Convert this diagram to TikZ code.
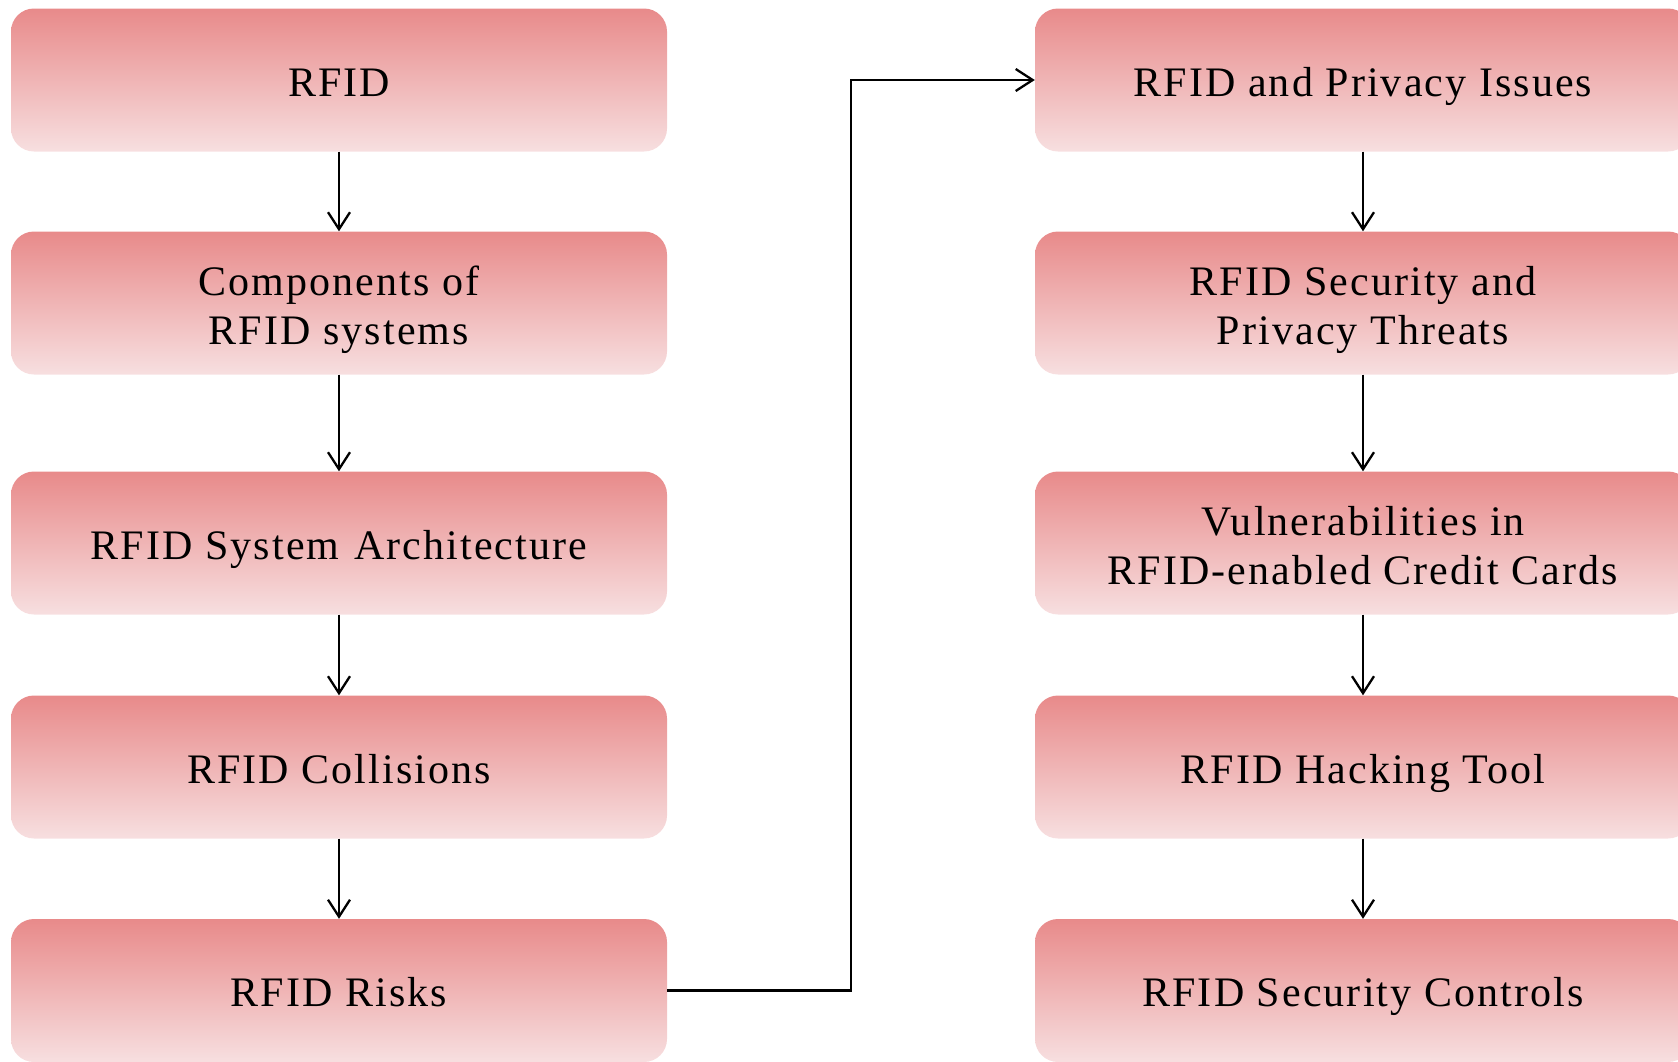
\documentclass[tikz,border=0pt]{standalone}
\usepackage{fontspec}
\newfontfamily\boxfont{Liberation Serif}[LetterSpace=5]
\usetikzlibrary{arrows.meta,shadings}
\definecolor{boxtop}{RGB}{232,138,138}
\definecolor{boxbot}{RGB}{247,223,224}
\begin{document}
\begin{tikzpicture}[x=1pt,y=-1pt,
  box/.style={draw=none, rounded corners=23pt, minimum width=656pt, minimum height=143pt,
    top color=boxtop, bottom color=boxbot, align=center, inner sep=0pt,
    text height=32pt, text depth=0pt,
    font=\boxfont\fontsize{42}{49}\selectfont},
  twoline/.style={text height=82pt, text depth=0pt},
  arr/.style={line width=2.3pt, -{Straight Barb[length=17pt,width=22pt,line width=2.3pt]}}]
\useasboundingbox (0,0) rectangle (1678,1061);
\node[box] (l1) at (339,80) {RFID};
\node[box,twoline] (l2) at (339,303) {Components of\\RFID systems};
\node[box] (l3) at (339,543) {RFID System\hspace{0.05em} Architecture};
\node[box] (l4) at (339,767) {RFID Collisions};
\node[box] (l5) at (339,990.5) {RFID Risks};
\node[box] (r1) at (1363,80) {RFID and Privacy Issues};
\node[box,twoline] (r2) at (1363,303) {RFID Security and\\Privacy Threats};
\node[box,twoline] (r3) at (1363,543) {Vulnerabilities in\\RFID-enabled Credit Cards};
\node[box] (r4) at (1363,767) {RFID Hacking Tool};
\node[box] (r5) at (1363,990.5) {RFID Security Controls};
\coordinate (bendA) at (851,990.5);
\coordinate (bendB) at (851,80);
\draw[arr] (l1.south) -- (l2.north);
\draw[arr] (l2.south) -- (l3.north);
\draw[arr] (l3.south) -- (l4.north);
\draw[arr] (l4.south) -- (l5.north);
\draw[arr] (r1.south) -- (r2.north);
\draw[arr] (r2.south) -- (r3.north);
\draw[arr] (r3.south) -- (r4.north);
\draw[arr] (r4.south) -- (r5.north);
\draw[arr] (l5.east) -- (bendA) -- (bendB) -- (r1.west);
\end{tikzpicture}
\end{document}
